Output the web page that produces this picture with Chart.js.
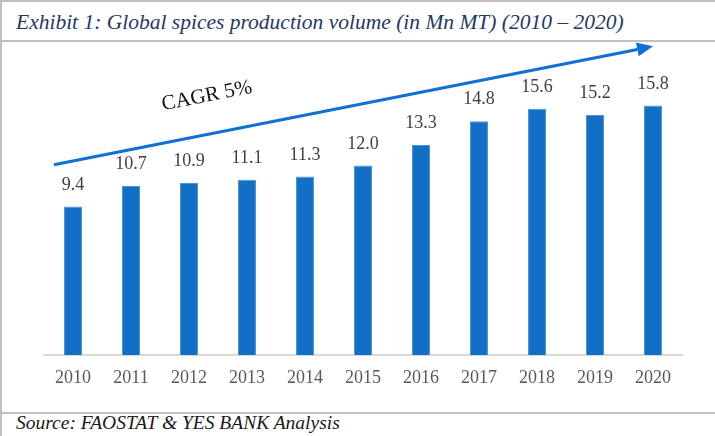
<!DOCTYPE html>
<html>
<head>
<meta charset="utf-8">
<script src="https://cdn.jsdelivr.net/npm/chart.js@4.4.1/dist/chart.umd.min.js"></script>
<style>
  html, body { margin: 0; padding: 0; background: #fff; }
  #wrap { position: relative; width: 715px; height: 436px; overflow: hidden; background: #fff; }
  .hline { position: absolute; left: 0; width: 715px; height: 2px; background: #bfbfbf; z-index: 2; }
  .vline { position: absolute; left: 0; top: 0; width: 2px; height: 436px; background: #bfbfbf; z-index: 2; }
  #title { position: absolute; left: 16px; top: 12px; font: italic 21.5px/21.5px "Liberation Serif", serif; color: #1f3864; white-space: nowrap; }
  #source { position: absolute; left: 16px; top: 413px; font: italic 19.5px/19.5px "Liberation Serif", serif; color: #1a1a1a; white-space: nowrap; }
  #chart { position: absolute; left: 0; top: 42px; }
</style>
</head>
<body>
<div id="wrap">
  <div class="hline" style="top:0px"></div>
  <div class="hline" style="top:40px"></div>
  <div class="hline" style="top:412px"></div>
  <div class="vline"></div>
  <div id="title">Exhibit 1: Global spices production volume (in Mn MT) (2010 – 2020)</div>
  <canvas id="chart" width="715" height="370"></canvas>
  <div id="source">Source: FAOSTAT &amp; YES BANK Analysis</div>
</div>
<script>
const years = ["2010", "2011", "2012", "2013", "2014", "2015", "2016", "2017", "2018", "2019", "2020"];
const volumes = [9.4, 10.7, 10.9, 11.1, 11.3, 12.0, 13.3, 14.8, 15.6, 15.2, 15.8];
const cagrLabel = "CAGR 5%";
// trend arrow, in axis units (category index, value)
const arrowFrom = [-0.33, 12.05];
const arrowTo = [10.0, 19.55];
const cagrAt = [2.31, 16.4];

const serif = "'Liberation Serif', 'Times New Roman', serif";

// value labels above the bars
const barLabels = {
  id: "barLabels",
  afterDatasetsDraw(chart) {
    const ctx = chart.ctx;
    const meta = chart.getDatasetMeta(0);
    ctx.save();
    ctx.font = "18px " + serif;
    ctx.fillStyle = "#404040";
    ctx.textAlign = "center";
    ctx.textBaseline = "alphabetic";
    meta.data.forEach((bar, i) => {
      ctx.fillText(volumes[i].toFixed(1), bar.x, bar.y - 17);
    });
    ctx.restore();
  }
};

// CAGR arrow and its label
const cagrArrow = {
  id: "cagrArrow",
  afterDraw(chart) {
    const ctx = chart.ctx;
    const xs = chart.scales.x;
    const ys = chart.scales.y;
    const x1 = xs.getPixelForValue(arrowFrom[0]);
    const y1 = ys.getPixelForValue(arrowFrom[1]);
    const x2 = xs.getPixelForValue(arrowTo[0]);
    const y2 = ys.getPixelForValue(arrowTo[1]);
    const ang = Math.atan2(y2 - y1, x2 - x1);
    const headLen = 16;
    const headHalf = 7;
    const bx = x2 - headLen * Math.cos(ang);
    const by = y2 - headLen * Math.sin(ang);

    ctx.save();
    ctx.strokeStyle = "#1170d4";
    ctx.fillStyle = "#1170d4";
    ctx.lineWidth = 3;
    ctx.beginPath();
    ctx.moveTo(x1, y1);
    ctx.lineTo(bx, by);
    ctx.stroke();

    ctx.beginPath();
    ctx.moveTo(x2, y2);
    ctx.lineTo(bx + headHalf * Math.sin(ang), by - headHalf * Math.cos(ang));
    ctx.lineTo(bx - headHalf * Math.sin(ang), by + headHalf * Math.cos(ang));
    ctx.closePath();
    ctx.fill();

    // label along the arrow
    const tx = xs.getPixelForValue(cagrAt[0]);
    const ty = ys.getPixelForValue(cagrAt[1]);
    ctx.translate(tx, ty);
    ctx.rotate(ang);
    ctx.font = "21px " + serif;
    ctx.fillStyle = "#111111";
    ctx.textAlign = "center";
    ctx.textBaseline = "middle";
    ctx.fillText(cagrLabel, 0, 0);
    ctx.restore();
  }
};

new Chart(document.getElementById("chart"), {
  type: "bar",
  data: {
    labels: years,
    datasets: [{
      data: volumes,
      backgroundColor: "#1170c6",
      borderColor: "#4f94d6",
      borderWidth: 1,
      categoryPercentage: 1,
      barPercentage: 0.31
    }]
  },
  options: {
    responsive: false,
    animation: false,
    devicePixelRatio: 1,
    layout: { padding: { left: 44, right: 33, top: 13, bottom: 0 } },
    plugins: {
      legend: { display: false },
      tooltip: { enabled: false },
      title: { display: false }
    },
    scales: {
      x: {
        grid: { display: false, drawTicks: false },
        border: { display: true, color: "#d9d9d9", width: 2 },
        ticks: {
          color: "#595959",
          font: { family: serif, size: 18 },
          padding: 12,
          maxRotation: 0
        },
        afterFit(scale) { scale.height = 57; }
      },
      y: {
        display: false,
        min: 0,
        max: 19
      }
    }
  },
  plugins: [barLabels, cagrArrow]
});
</script>
</body>
</html>
